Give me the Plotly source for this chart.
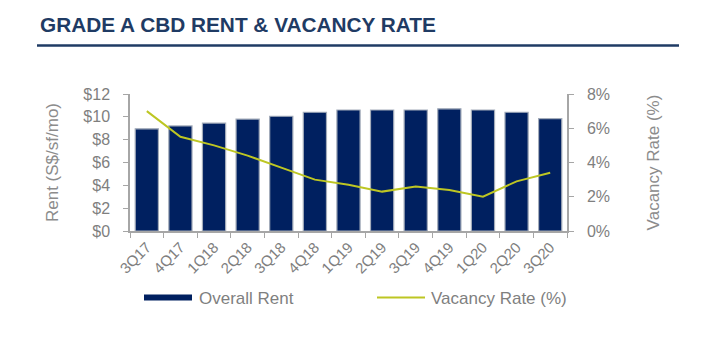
import plotly.graph_objects as go

# Quarterly Grade A CBD office rent and vacancy
quarters = ["3Q17", "4Q17", "1Q18", "2Q18", "3Q18", "4Q18", "1Q19",
            "2Q19", "3Q19", "4Q19", "1Q20", "2Q20", "3Q20"]
rent = [8.95, 9.20, 9.45, 9.80, 10.05, 10.40, 10.60,
        10.60, 10.60, 10.70, 10.60, 10.40, 9.85]
vacancy = [7.0, 5.5, 5.0, 4.4, 3.7, 3.0, 2.7,
           2.3, 2.6, 2.4, 2.0, 2.9, 3.4]

rent_ticks = [0, 2, 4, 6, 8, 10, 12]
rent_labels = ["$0", "$2", "$4", "$6", "$8", "$10", "$12"]
vac_ticks = [0, 2, 4, 6, 8]
vac_labels = ["0%", "2%", "4%", "6%", "8%"]

W, H = 715, 347
L, R, T, B = 130, 148, 94, 116
PW, PH = W - L - R, H - T - B

NAVY = "#002060"
GREEN = "#BDC623"
GREY = "#7F7F7F"
AXIS = "#A6A6A6"
HEAD = "#1F3B64"
FONT = "Arial, 'Liberation Sans', sans-serif"


def px(x):
    return (x - L) / PW


def py(y):
    return (H - B - y) / PH


fig = go.Figure()
fig.add_trace(go.Bar(
    x=quarters, y=rent, name="Overall Rent",
    marker=dict(color=NAVY, line=dict(color="#A3ACBA", width=1.2)),
    showlegend=False,
))
fig.add_trace(go.Scatter(
    x=quarters, y=vacancy, name="Vacancy Rate (%)", yaxis="y2",
    mode="lines", line=dict(color=GREEN, width=2),
    showlegend=False,
))

fig.update_layout(
    width=W, height=H,
    margin=dict(l=L, r=R, t=T, b=B, pad=0),
    paper_bgcolor="white", plot_bgcolor="white",
    font=dict(family=FONT, color=GREY, size=16),
    bargap=0.31,
    xaxis=dict(
        type="category", showgrid=False, showline=True,
        linecolor=AXIS, linewidth=1.5,
        ticks="outside", tickson="boundaries", ticklen=5,
        tickcolor=AXIS, tickwidth=1.2, tickangle=-45,
        tickfont=dict(family=FONT, size=15, color=GREY),
    ),
    yaxis=dict(
        range=[0, 12], tickmode="array", tickvals=rent_ticks, ticktext=rent_labels,
        showgrid=False, zeroline=False, showline=True,
        linecolor=AXIS, linewidth=1.5,
        ticks="outside", ticklen=5, tickcolor=AXIS, tickwidth=1.2,
        tickfont=dict(family=FONT, size=16, color=GREY),
        ticklabelstandoff=10,
        title=dict(text="Rent (S$/sf/mo)",
                   font=dict(family=FONT, size=17, color="#8C8C8C"),
                   standoff=20),
    ),
    yaxis2=dict(
        range=[0, 8], tickmode="array", tickvals=vac_ticks, ticktext=vac_labels,
        overlaying="y", side="right",
        showgrid=False, zeroline=False, showline=True,
        linecolor=AXIS, linewidth=1.5,
        ticks="outside", ticklen=5, tickcolor=AXIS, tickwidth=1.2,
        tickfont=dict(family=FONT, size=16, color=GREY),
        ticklabelstandoff=10,
        title=dict(text="Vacancy Rate (%)",
                   font=dict(family=FONT, size=17, color="#8C8C8C"),
                   standoff=38),
    ),
)

# Heading and rule beneath it
fig.add_annotation(
    text="<b>GRADE A CBD RENT &amp; VACANCY RATE</b>",
    xref="paper", yref="paper", x=px(38), y=py(24),
    xanchor="left", yanchor="middle", showarrow=False,
    font=dict(family=FONT, size=20.8, color=HEAD),
)
fig.add_shape(
    type="line", xref="paper", yref="paper",
    x0=px(37), x1=px(679), y0=py(45.5), y1=py(45.5),
    line=dict(color=HEAD, width=2.5),
)

# Legend drawn below the plot
fig.add_shape(
    type="rect", xref="paper", yref="paper",
    x0=px(144), x1=px(192), y0=py(294.5), y1=py(300.5),
    fillcolor=NAVY, line=dict(width=0),
)
fig.add_annotation(
    text="Overall Rent", xref="paper", yref="paper",
    x=px(197), y=py(298), xanchor="left", yanchor="middle", showarrow=False,
    font=dict(family=FONT, size=17, color=GREY),
)
fig.add_shape(
    type="line", xref="paper", yref="paper",
    x0=px(377), x1=px(425), y0=py(297.5), y1=py(297.5),
    line=dict(color=GREEN, width=2),
)
fig.add_annotation(
    text="Vacancy Rate (%)", xref="paper", yref="paper",
    x=px(429), y=py(298), xanchor="left", yanchor="middle", showarrow=False,
    font=dict(family=FONT, size=17, color=GREY),
)

fig.write_html("out.html")
